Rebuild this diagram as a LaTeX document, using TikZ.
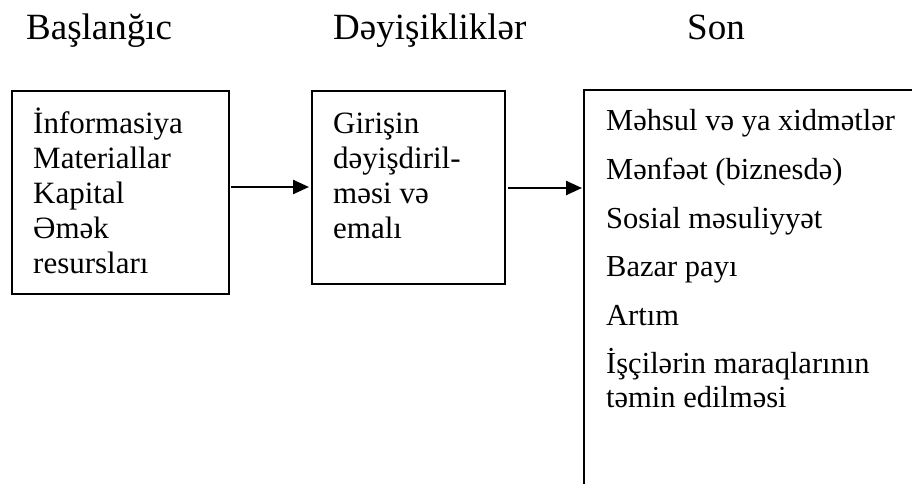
\documentclass[tikz,border=0pt]{standalone}
\usepackage{fontspec}
\setmainfont{Liberation Serif}
\usetikzlibrary{arrows.meta}
\begin{document}
\begin{tikzpicture}[x=1pt,y=-1pt,
  boxline/.style={draw=black,line width=1.8pt},
  titletext/.style={anchor=base west,inner sep=0pt,font=\fontsize{37}{40}\selectfont},
  itemtext/.style={anchor=base west,inner sep=0pt,font=\fontsize{31}{35}\selectfont},
  listtext/.style={anchor=base west,inner sep=0pt,font=\fontsize{30.5}{34}\selectfont},
  flow/.style={line width=2.4pt,-{Triangle[length=16pt,width=14pt]},shorten >=2pt}]
\useasboundingbox (0,0) rectangle (912,484);
\fill[white] (0,0) rectangle (912,484);
% titles
\node[titletext] (t1) at (26,40) {Başlanğıc};
\node[titletext] (t2) at (333,40) {Dəyişikliklər};
\node[titletext] (t3) at (687,40) {Son};
% boxes
\node[boxline,rectangle,minimum width=217pt,minimum height=203pt,anchor=north west,inner sep=0pt] (b1) at (11,90) {};
\node[boxline,rectangle,minimum width=193pt,minimum height=193pt,anchor=north west,inner sep=0pt] (b2) at (311,90) {};
\coordinate (b3tr) at (915,90);
\coordinate (b3tl) at (584,90);
\coordinate (b3bl) at (584,490);
\draw[boxline] (b3tr) -- (b3tl) -- (b3bl);
% box 1 text
\node[itemtext] (a1) at (33,133) {İnformasiya};
\node[itemtext] (a2) at (33,168) {Materiallar};
\node[itemtext] (a3) at (33,203) {Kapital};
\node[itemtext] (a4) at (33,238) {Əmək};
\node[itemtext] (a5) at (33,273) {resursları};
% box 2 text
\node[itemtext] (c1) at (333,133) {Girişin};
\node[itemtext] (c2) at (333,168) {dəyişdiril-};
\node[itemtext] (c3) at (333,203) {məsi və};
\node[itemtext] (c4) at (333,238) {emalı};
% box 3 text
\node[listtext] (d1) at (606,131) {Məhsul və ya xidmətlər};
\node[listtext] (d2) at (606,179.5) {Mənfəət (biznesdə)};
\node[listtext] (d3) at (606,228) {Sosial məsuliyyət};
\node[listtext] (d4) at (606,276.5) {Bazar payı};
\node[listtext] (d5) at (606,325) {Artım};
\node[listtext] (d6) at (606,373.5) {İşçilərin maraqlarının};
\node[listtext] (d7) at (606,407) {təmin edilməsi};
% arrows
\coordinate (s1) at (231,187);
\coordinate (s2) at (508,188);
\draw[flow] (s1) -- (s1 -| b2.west);
\draw[flow] (s2) -- (s2 -| b3tl);
\end{tikzpicture}
\end{document}
